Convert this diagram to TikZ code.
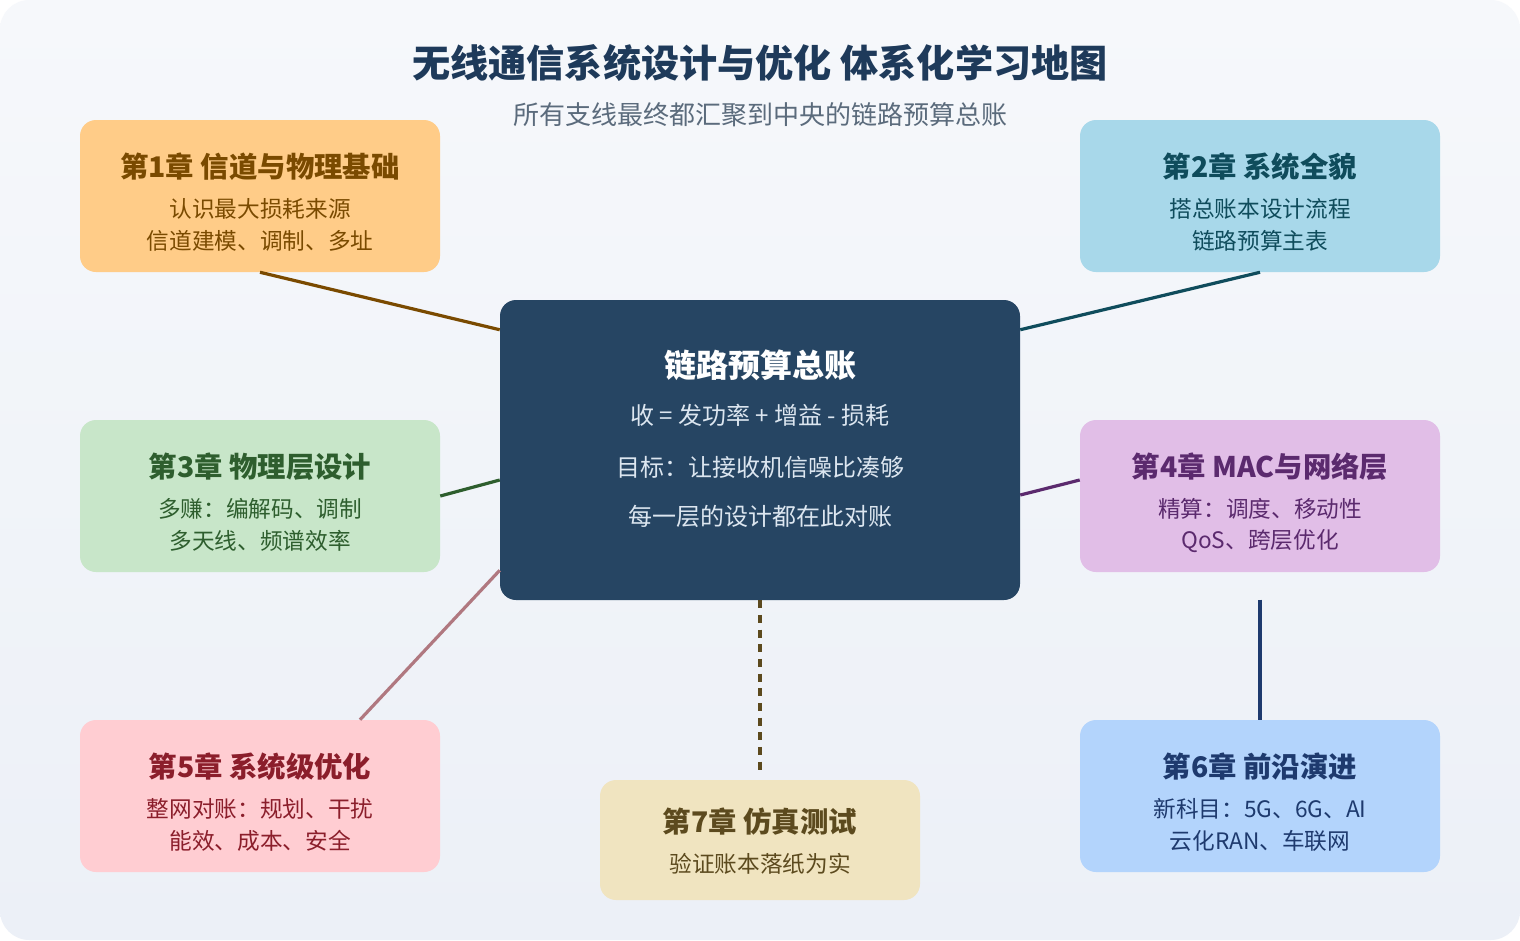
\documentclass[tikz,border=0pt]{standalone}
\usepackage{fontspec}
\setmainfont{Noto Sans CJK SC}
\usepackage{tikz}
\usetikzlibrary{calc}

\definecolor{bgtop}{HTML}{F6F8FB}
\definecolor{bgbot}{HTML}{ECF0F7}
\definecolor{navy}{HTML}{1E3A5A}
\definecolor{subgray}{HTML}{5B6B7C}
\definecolor{ctrfill}{HTML}{264563}
\definecolor{ctrtext}{HTML}{DCE6F0}
\definecolor{fillA}{HTML}{FFCC88}\definecolor{inkA}{HTML}{7A4A00}
\definecolor{fillB}{HTML}{A8D8EA}\definecolor{inkB}{HTML}{0F4C5C}
\definecolor{fillC}{HTML}{C8E6C9}\definecolor{inkC}{HTML}{2E5E2E}
\definecolor{fillD}{HTML}{E1BEE7}\definecolor{inkD}{HTML}{5B2A6E}
\definecolor{fillE}{HTML}{FFCDD2}\definecolor{inkE}{HTML}{8B1E2B}\definecolor{lineE}{HTML}{B07880}
\definecolor{fillF}{HTML}{B3D4FC}\definecolor{inkF}{HTML}{1E3A6E}
\definecolor{fillG}{HTML}{F0E4C0}\definecolor{inkG}{HTML}{5C4A1E}

\tikzset{
  box/.style={rounded corners=12pt, minimum width=270pt, minimum height=114pt, inner sep=0pt},
  ttl/.style={font=\bfseries\fontsize{21.3}{25}\selectfont},
  txt/.style={font=\fontsize{17}{21}\selectfont},
  link/.style={line width=2.4pt}
}

\begin{document}
\begin{tikzpicture}[x=0.75pt,y=0.75pt,yscale=-1,xscale=1]
\useasboundingbox (0,0) rectangle (1520,940);
\fill[white] (0,0) rectangle (1520,940);
\shade[top color=bgtop, bottom color=bgbot, rounded corners=22pt] (0,0) rectangle (1520,940);

% title
\node (title) at (760,63) [text=navy, font=\bfseries\fontsize{28.6}{32}\selectfont] {无线通信系统设计与优化 体系化学习地图};
\node (sub) at (760,115) [text=subgray, font=\fontsize{19.5}{23}\selectfont] {所有支线最终都汇聚到中央的链路预算总账};

% boxes
\node (ctr) at (760,450) [box, fill=ctrfill, minimum width=390pt, minimum height=225pt] {};
\node (c1) at (260,196) [box, fill=fillA] {};
\node (c2) at (1260,196) [box, fill=fillB] {};
\node (c3) at (260,496) [box, fill=fillC] {};
\node (c4) at (1260,496) [box, fill=fillD] {};
\node (c5) at (260,796) [box, fill=fillE] {};
\node (c6) at (1260,796) [box, fill=fillF] {};
\node (c7) at (760,840) [box, fill=fillG, minimum width=240pt, minimum height=90pt] {};

% links
\draw[link, inkA] (c1.south) -- ($(ctr.north west)+(0,30)$);
\draw[link, inkB] (c2.south) -- ($(ctr.north east)+(0,30)$);
\draw[link, inkC] (c3.east) -- ($(ctr.west)+(0,30)$);
\draw[link, inkD] ($(ctr.east)+(0,45)$) -- ($(c4.west)+(0,-16)$);
\draw[link, lineE] ($(c5.north)+(100,0)$) -- ($(ctr.south west)+(0,-30)$);
\coordinate (c6top) at ($(c6.north)+(0,-120)$);
\draw[link, inkF] (c6top) -- (c6.north);
\coordinate (c7top) at ($(c7.north)+(0,-8)$);
\draw[link, inkG, dash pattern=on 6pt off 5pt] (ctr.south) -- (c7top);

% center text
\node (ctrt) at (760,365) [text=white, font=\bfseries\fontsize{24}{28}\selectfont] {链路预算总账};
\node (ctr1) at (760,415) [text=ctrtext, font=\fontsize{18}{22}\selectfont] {收 = 发功率 + 增益 - 损耗};
\node (ctr2) at (760,467) [text=ctrtext, font=\fontsize{18}{22}\selectfont] {目标：让接收机信噪比凑够};
\node (ctr3) at (760,516) [text=ctrtext, font=\fontsize{18}{22}\selectfont] {每一层的设计都在此对账};

% chapter text
\node (t1) at (260,167) [ttl, text=inkA] {第1章 信道与物理基础};
\node (a1) at (260,209) [txt, text=inkA] {认识最大损耗来源};
\node (b1) at (260,241) [txt, text=inkA] {信道建模、调制、多址};
\node (t2) at (1260,167) [ttl, text=inkB] {第2章 系统全貌};
\node (a2) at (1260,209) [txt, text=inkB] {搭总账本设计流程};
\node (b2) at (1260,241) [txt, text=inkB] {链路预算主表};
\node (t3) at (260,467) [ttl, text=inkC] {第3章 物理层设计};
\node (a3) at (260,509) [txt, text=inkC] {多赚：编解码、调制};
\node (b3) at (260,541) [txt, text=inkC] {多天线、频谱效率};
\node (t4) at (1260,467) [ttl, text=inkD] {第4章 MAC与网络层};
\node (a4) at (1260,509) [txt, text=inkD] {精算：调度、移动性};
\node (b4) at (1260,541) [txt, text=inkD] {QoS、跨层优化};
\node (t5) at (260,767) [ttl, text=inkE] {第5章 系统级优化};
\node (a5) at (260,809) [txt, text=inkE] {整网对账：规划、干扰};
\node (b5) at (260,841) [txt, text=inkE] {能效、成本、安全};
\node (t6) at (1260,767) [ttl, text=inkF] {第6章 前沿演进};
\node (a6) at (1260,809) [txt, text=inkF] {新科目：5G、6G、AI};
\node (b6) at (1260,841) [txt, text=inkF] {云化RAN、车联网};
\node (t7) at (760,822) [ttl, text=inkG] {第7章 仿真测试};
\node (a7) at (760,864) [txt, text=inkG] {验证账本落纸为实};

\end{tikzpicture}
\end{document}
